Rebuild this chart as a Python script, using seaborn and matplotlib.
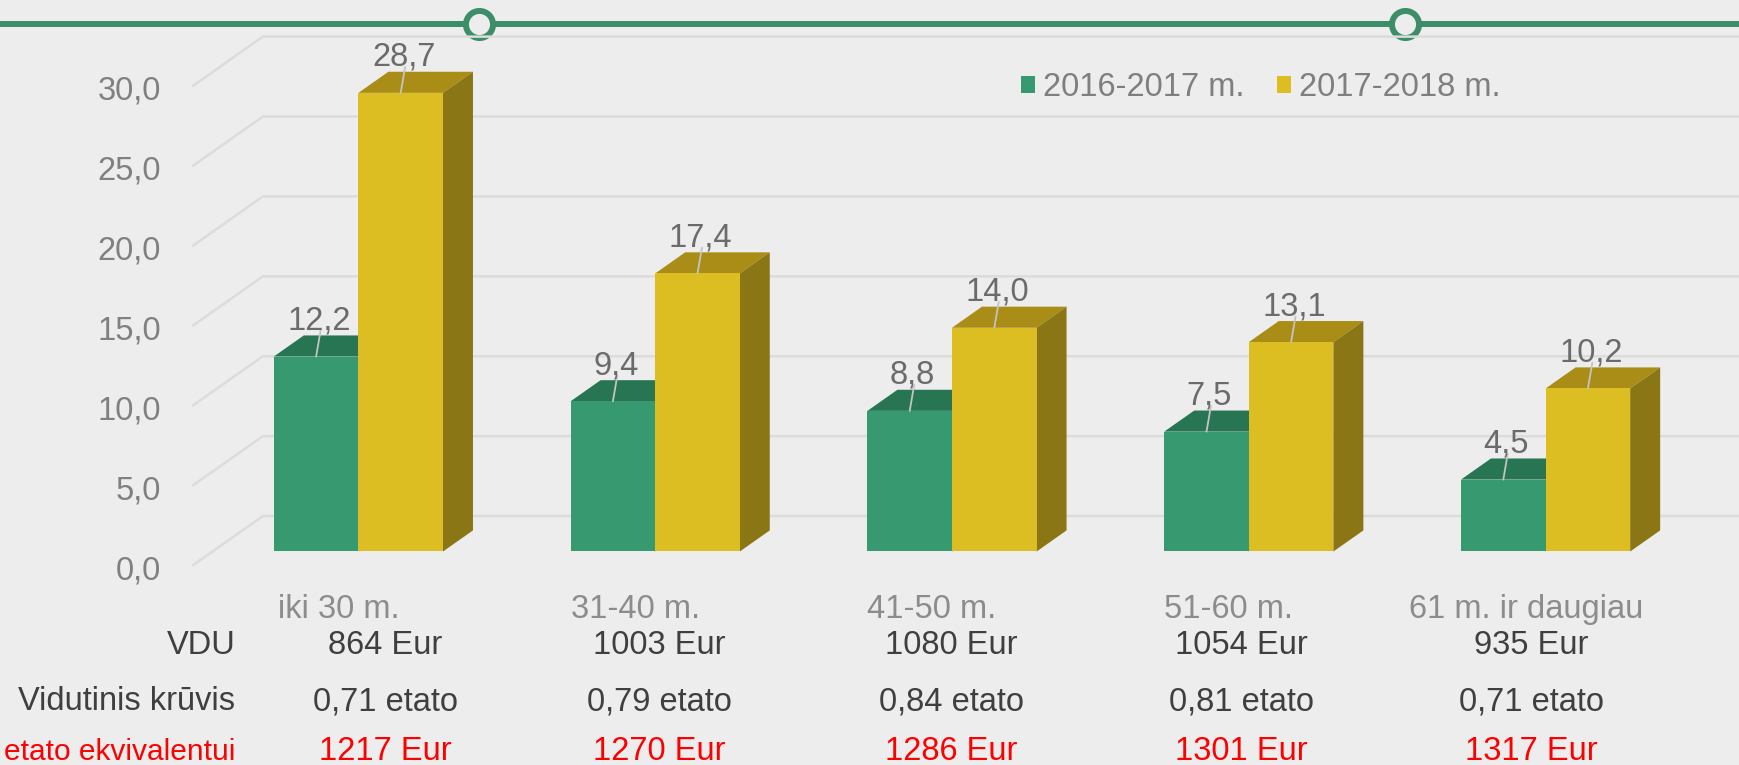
import pandas as pd
import seaborn as sns
import matplotlib.pyplot as plt
from matplotlib.patches import Polygon

groups = ["iki 30 m.", "31-40 m.", "41-50 m.", "51-60 m.", "61 m. ir daugiau"]
seasons = ["2016-2017 m.", "2017-2018 m."]
share_2016 = [12.2, 9.4, 8.8, 7.5, 4.5]
share_2017 = [28.7, 17.4, 14.0, 13.1, 10.2]
y_ticks = [0, 5, 10, 15, 20, 25, 30]
vdu = [864, 1003, 1080, 1054, 935]
kruvis = [0.71, 0.79, 0.84, 0.81, 0.71]
ekviv = [1217, 1270, 1286, 1301, 1317]

bg = "#ededed"
green, green_top, green_side = "#36996f", "#277553", "#1f5f43"
yellow, yellow_top, yellow_side = "#dcbd22", "#a98d17", "#8b7615"
fs = 23.5


def fmt(v, d=1):
    return f"{v:.{d}f}".replace(".", ",")


df = pd.DataFrame({
    "group": groups * 2,
    "season": [seasons[0]] * len(groups) + [seasons[1]] * len(groups),
    "value": share_2016 + share_2017,
})

sns.set_theme(style="white")
plt.rcParams["font.family"] = ["Liberation Sans", "DejaVu Sans"]

fig = plt.figure(figsize=(17.4, 7.65), dpi=100, facecolor=bg)
ax = fig.add_axes([0, 0, 1, 1])
ax.set_facecolor(bg)

sns.barplot(data=df, x="group", y="value", hue="season", order=groups,
            hue_order=seasons, palette=[green, yellow], saturation=1,
            width=0.57, linewidth=0, ax=ax, zorder=3)

ax.set_xlim(-1.2076, 4.655)
ax.set_ylim(-13.36, 34.51)
ax.set_axis_off()

# fake 3d: depth offset in data units
dx, dy = 0.101, 1.32
wall_x, d_front, d_back = -0.4916, -0.68, 1.68

# top decoration
ax.plot([0, 1], [0.9686, 0.9686], color="#3b8e68", lw=4.3,
        transform=ax.transAxes, zorder=0.5, clip_on=False)
ax.plot([0.2753, 0.8075], [0.9686, 0.9686], "o", ms=19.5, mew=4.3,
        mfc=bg, mec="#3b8e68", transform=ax.transAxes, zorder=0.6, clip_on=False)

# gridlines on floor/back wall
for v in y_ticks:
    ax.plot([wall_x + dx * d_front, wall_x + dx * d_back, 5],
            [v + dy * d_front, v + dy * d_back, v + dy * d_back],
            color="#dcdcdc", lw=1.8, zorder=1, solid_capstyle="butt")
    ax.text(-0.665, v - 1.2, fmt(v), ha="right", va="center",
            color="#808080", fontsize=fs)

# top and side faces + labels
faces = [(green_top, green_side), (yellow_top, yellow_side)]
for cont, (c_top, c_side) in zip(ax.containers, faces):
    for bar in cont:
        x0, w, h = bar.get_x(), bar.get_width(), bar.get_height()
        ax.add_patch(Polygon([(x0, h), (x0 + w, h), (x0 + w + dx, h + dy), (x0 + dx, h + dy)],
                             closed=True, fc=c_top, lw=0, zorder=2))
        ax.add_patch(Polygon([(x0 + w, 0), (x0 + w + dx, dy), (x0 + w + dx, h + dy), (x0 + w, h)],
                             closed=True, fc=c_side, lw=0, zorder=2))
        xc = x0 + w / 2
        ax.plot([xc + 0.015, xc], [h + dy + 0.3, h], color="#c4c4c4", lw=1.3, zorder=4)
        ax.text(xc + 0.01, h + dy + 0.9, fmt(h), ha="center", va="center",
                color="#6b6b6b", fontsize=fs, zorder=5)

# category labels
for i, g in enumerate(groups):
    ax.text(i - 0.067, -3.6, g, ha="center", va="center", color="#8c8c8c", fontsize=fs)

# table below the chart
col_x = [0.2213, 0.3788, 0.5466, 0.7136, 0.8801]
rows = [
    ("VDU", [f"{v} Eur" for v in vdu], "#3f3f3f", 0.1567, fs),
    ("Vidutinis krūvis", [f"{fmt(v, 2)} etato" for v in kruvis], "#3f3f3f", 0.0827, fs),
    ("etato ekvivalentui", [f"{v} Eur" for v in ekviv], "#ff0000", 0.0175, 21.5),
]
for name, vals, col, y, name_fs in rows:
    ax.text(0.1352, y, name, ha="right", va="center", color=col,
            fontsize=name_fs, transform=ax.transAxes)
    for x, s in zip(col_x, vals):
        ax.text(x, y, s, ha="center", va="center", color=col,
                fontsize=fs, transform=ax.transAxes)

handles = ax.get_legend().legend_handles
ax.legend(handles, seasons, loc="center left", bbox_to_anchor=(0.5867, 0.886),
          bbox_transform=ax.transAxes, frameon=False, ncol=2, fontsize=fs,
          labelcolor="#7f7f7f", handlelength=0.42, handleheight=0.42,
          handletextpad=0.25, columnspacing=1.0, borderpad=0, borderaxespad=0)

fig.savefig("out.png", dpi=100, facecolor=bg)
